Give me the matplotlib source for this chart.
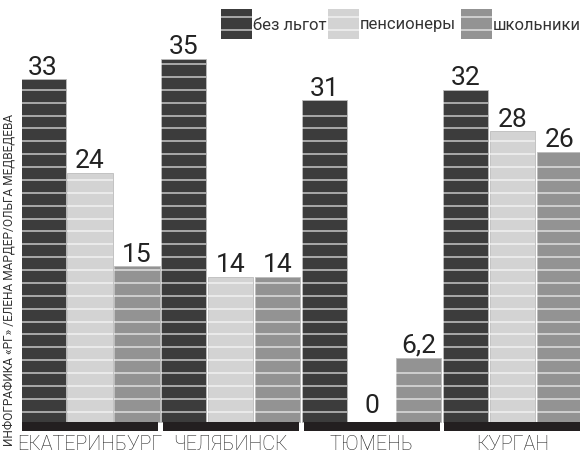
import matplotlib
matplotlib.use("Agg")
from matplotlib import pyplot as plt
from matplotlib.patches import Rectangle
import numpy as np

plt.rcParams['font.family'] = ['Roboto', 'DejaVu Sans']

cities = ["ЕКАТЕРИНБУРГ", "ЧЕЛЯБИНСК", "ТЮМЕНЬ", "КУРГАН"]
series = ["без льгот", "пенсионеры", "школьники"]
full = [33, 35, 31, 32]
pension = [24, 14, 0, 28]
school = [15, 14, 6.2, 26]
labels_full = ["33", "35", "31", "32"]
labels_pension = ["24", "14", "0", "28"]
labels_school = ["15", "14", "6,2", "26"]
credit = "ИНФОГРАФИКА «РГ» /ЕЛЕНА МАРДЕР/ОЛЬГА МЕДВЕДЕВА"

colors = ["#3c3c3c", "#d3d3d3", "#939393"]
W, H = 582, 455
fig = plt.figure(figsize=(W / 100, H / 100), dpi=100)

# axes: x 22..580 px, y from 431 px (bottom) to 0 px (top); baseline at 422
ppu = 10.38
ax = fig.add_axes([22 / W, (H - 431) / H, (580 - 22) / W, 431 / H])
ax.set_ylim(-(431 - 422) / ppu, 422 / ppu)
pitch = 140.8
ax.set_xlim((22 - 90) / pitch, (580 - 90) / pitch)
ax.axis("off")

x = np.arange(len(cities))
bw = 45.3 / pitch
off = 47 / pitch
stripes = 1.0 + 1.24 * np.arange(40)

for i, (vals, labs) in enumerate([(full, labels_full), (pension, labels_pension), (school, labels_school)]):
    xs = x + (i - 1) * off
    ax.bar(xs, vals, bw, color=colors[i], edgecolor="#bcbcbc", linewidth=0.6)
    for xc, v, lab in zip(xs, vals, labs):
        ys = stripes[stripes < v - 0.3]
        ax.hlines(ys, xc - bw / 2, xc + bw / 2, color="white", alpha=0.7, linewidth=1.1)
        ax.text(xc, max(v, 0.4) + 0.45, lab, ha="center", va="baseline",
                fontsize=19, color="#222222")

# black base band under each group
ax.bar(x, [-(431 - 422) / ppu] * len(x), 136 / pitch, color="#231f20")

for xc, c in zip(x, cities):
    ax.text(xc, (422 - 450) / ppu, c, ha="center", va="baseline", fontsize=14.2,
            fontweight="light", color="#222222", clip_on=False)

# legend in pixel coordinates
lg = fig.add_axes([0, 0, 1, 1])
lg.set_xlim(0, W)
lg.set_ylim(H, 0)
lg.axis("off")
lx = [221, 328, 461]
for i, s in enumerate(series):
    lg.add_patch(Rectangle((lx[i], 9), 31, 30, color=colors[i], lw=0))
    lg.hlines([17, 30], lx[i], lx[i] + 31, color="white", alpha=0.7, linewidth=1.1)
    lg.text(lx[i] + 32, 25, s, ha="left", va="center", fontsize=12, color="#333333")

lg.text(9, 446, credit, rotation=90, ha="center", va="bottom", fontsize=8.6,
        color="#333333")

fig.savefig("out.png", dpi=100)
